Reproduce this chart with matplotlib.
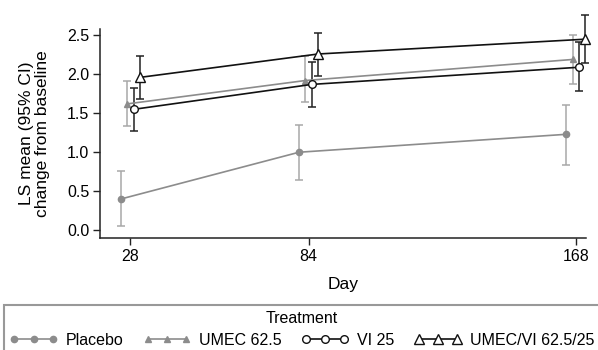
import matplotlib
matplotlib.use("Agg")
import matplotlib.pyplot as plt
import numpy as np

plt.rcParams["font.family"] = ["Liberation Sans", "DejaVu Sans"]

days = [28, 84, 168]
treatments = ["Placebo", "UMEC 62.5", "VI 25", "UMEC/VI 62.5/25"]

placebo = [0.40, 1.00, 1.23]
placebo_lo = [0.05, 0.65, 0.84]
placebo_hi = [0.76, 1.35, 1.61]

umec = [1.62, 1.92, 2.19]
umec_lo = [1.34, 1.64, 1.88]
umec_hi = [1.91, 2.23, 2.51]

vi = [1.55, 1.87, 2.09]
vi_lo = [1.27, 1.58, 1.79]
vi_hi = [1.82, 2.16, 2.41]

umec_vi = [1.96, 2.26, 2.45]
umec_vi_lo = [1.68, 1.98, 2.15]
umec_vi_hi = [2.24, 2.53, 2.76]

series = [
    (placebo, placebo_lo, placebo_hi),
    (umec, umec_lo, umec_hi),
    (vi, vi_lo, vi_hi),
    (umec_vi, umec_vi_lo, umec_vi_hi),
]

# style per treatment: line colour, errorbar colour, marker, face, size
styles = [
    ("#8c8c8c", "#a8a8a8", "o", "#8c8c8c", 4.5),
    ("#8c8c8c", "#a8a8a8", "^", "#8c8c8c", 5),
    ("#111111", "#222222", "o", "white", 5.5),
    ("#111111", "#222222", "^", "white", 6.5),
]
offsets = [-3, -1, 1, 3]

fig = plt.figure(figsize=(5.98, 3.5), dpi=100)
ax = fig.add_axes([0.168, 0.32, 0.812, 0.597])

handles = []
for (vals, lo, hi), (lc, ec, mk, fc, ms), off, name in zip(series, styles, offsets, treatments):
    x = np.array(days) + off
    y = np.array(vals)
    yerr = [y - np.array(lo), np.array(hi) - y]
    eb = ax.errorbar(x, y, yerr=yerr, fmt="none", ecolor=ec, elinewidth=1.1,
                     capsize=3, capthick=1.1, zorder=2)
    for art in eb.lines[1] + eb.lines[2]:
        art.set_clip_on(False)
    h, = ax.plot(x, y, color=lc, lw=1.2, marker=mk, ms=ms, mfc=fc,
                 mec=lc, mew=1.0, zorder=3, label=name, clip_on=False)
    handles.append(h)

ax.set_xlim(18.6, 171.2)
ax.set_ylim(-0.1, 2.58)
ax.set_xticks(days)
ax.set_xticklabels([str(d) for d in days])
ax.set_yticks([0.0, 0.5, 1.0, 1.5, 2.0, 2.5])
ax.set_yticklabels(["0.0", "0.5", "1.0", "1.5", "2.0", "2.5"])
ax.tick_params(labelsize=11.5, length=5, width=1, color="#222222", pad=3)
for s in ["top", "right"]:
    ax.spines[s].set_visible(False)
for s in ["left", "bottom"]:
    ax.spines[s].set_linewidth(1.1)
    ax.spines[s].set_color("#222222")

ax.set_xlabel("Day", fontsize=12.5, labelpad=9)
ax.set_ylabel("LS mean (95% CI)\nchange from baseline", fontsize=12.5,
              linespacing=1.1, labelpad=12)

leg = fig.legend(handles=handles, labels=treatments, title="Treatment",
                 ncol=4, numpoints=3, handlelength=3.0, handletextpad=0.5,
                 columnspacing=1.4, fontsize=11.5, title_fontsize=11.5,
                 loc="upper left", bbox_to_anchor=(0.0067, 0.0, 0.9966, 0.1286),
                 mode="expand", borderaxespad=0, frameon=True, fancybox=False,
                 edgecolor="#808080", borderpad=0.35, labelspacing=0.45)
leg.get_frame().set_linewidth(1.5)

fig.savefig("out.png", dpi=100)
